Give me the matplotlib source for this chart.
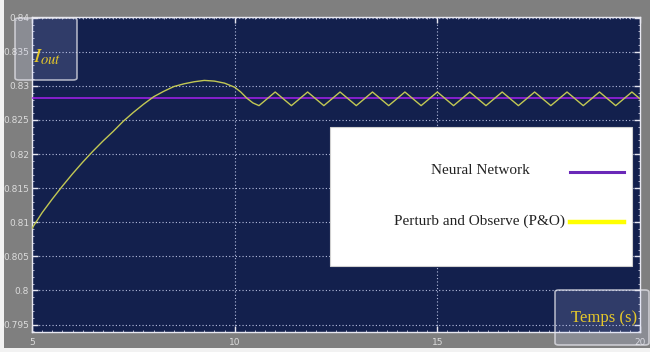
import matplotlib
matplotlib.use("Agg")
import matplotlib.pyplot as plt
from matplotlib.patches import FancyBboxPatch, Rectangle
from matplotlib.lines import Line2D
import matplotlib.ticker as mticker

plt.rcParams["mathtext.fontset"] = "stix"

# ---- data ----
po_time = [5.0, 5.25, 5.5, 5.75, 6.0, 6.25, 6.5, 6.75, 7.0, 7.25, 7.5, 7.75, 8.0, 8.25,
           8.5, 8.75, 9.0, 9.25, 9.5, 9.75, 10.0, 10.15, 10.3, 10.45, 10.6,
           11.0, 11.4, 11.8, 12.2, 12.6, 13.0, 13.4, 13.8, 14.2, 14.6, 15.0, 15.4,
           15.8, 16.2, 16.6, 17.0, 17.4, 17.8, 18.2, 18.6, 19.0, 19.4, 19.8, 20.0]
po_current = [0.8091, 0.8114, 0.8134, 0.8153, 0.8171, 0.8188, 0.8204, 0.8219, 0.8233,
              0.8248, 0.8261, 0.8273, 0.8284, 0.8292, 0.8299, 0.8303, 0.8306, 0.8308,
              0.8307, 0.8304, 0.8298, 0.8291, 0.8282, 0.8275, 0.8271,
              0.8291, 0.8271, 0.8291, 0.8271, 0.8291, 0.8271, 0.8291, 0.8271, 0.8291,
              0.8271, 0.8291, 0.8271, 0.8291, 0.8271, 0.8291, 0.8271, 0.8291, 0.8271,
              0.8291, 0.8271, 0.8291, 0.8271, 0.8291, 0.8281]
nn_time = [5.0, 20.0]
nn_current = [0.8282, 0.8282]

x_ticks = [5, 10, 15, 20]
y_ticks = [0.795, 0.8, 0.805, 0.81, 0.815, 0.82, 0.825, 0.83, 0.835, 0.84]
y_tick_labels = ["0.795", "0.8", "0.805", "0.81", "0.815", "0.82", "0.825", "0.83", "0.835", "0.84"]
legend_labels = ["Neural Network", "Perturb and Observe (P&O)"]

W, H = 650, 352


def fx(x):
    return x / W


def fy(y):
    return 1 - y / H


fig = plt.figure(figsize=(6.5, 3.52), dpi=100, facecolor="#f2f2f2")
# gray panel (leaves a thin light strip at left and bottom)
fig.patches.append(Rectangle((fx(4), fy(348)), fx(646), 348 / H, transform=fig.transFigure,
                             facecolor="#7f7f7f", edgecolor="none", zorder=-10))

ax = fig.add_axes([fx(32), fy(332), fx(608), 315 / H])
ax.set_facecolor("#13204d")

ax.plot(nn_time, nn_current, color="#a41ff0", lw=1.1, zorder=3)
ax.plot(po_time, po_current, color="#c2c854", lw=1.0, zorder=4)

ax.set_xlim(5, 20)
ax.set_ylim(0.7939, 0.8401)
ax.set_xticks(x_ticks)
ax.set_xticklabels([str(t) for t in x_ticks])
ax.set_yticks(y_ticks)
ax.set_yticklabels(y_tick_labels)
ax.xaxis.set_minor_locator(mticker.MultipleLocator(0.25))
ax.yaxis.set_minor_locator(mticker.MultipleLocator(0.001))
ax.tick_params(axis="both", which="major", direction="in", colors="#e6e6f0",
               labelcolor="#dcdcdc", labelsize=6.5, length=4, width=1, pad=2)
ax.tick_params(axis="both", which="minor", direction="in", colors="#c8c8e0", length=1.5)
ax.tick_params(axis="x", pad=4)
ax.tick_params(top=True, right=True, which="both")
ax.grid(True, which="major", color="#b8bfe0", linestyle=(0, (1, 2)), lw=0.8)
for s in ax.spines.values():
    s.set_color("#e8e8f0")
    s.set_linewidth(1.0)

# legend box
fig.patches.append(Rectangle((fx(330), fy(266)), fx(302), 139 / H, transform=fig.transFigure,
                             facecolor="white", edgecolor="#d0d0d0", lw=0.8, zorder=6))
fig.text(fx(480), fy(171), legend_labels[0], ha="center", va="center",
         family="Liberation Serif", fontsize=11, color="#222222", zorder=7)
fig.text(fx(480), fy(221), legend_labels[1], ha="center", va="center",
         family="Liberation Serif", fontsize=11, color="#222222", zorder=7)
fig.lines.append(Line2D([fx(570), fx(624)], [fy(172), fy(172)], transform=fig.transFigure,
                        color="#6a28b8", lw=2.2, zorder=7))
fig.lines.append(Line2D([fx(570), fx(624)], [fy(222), fy(222)], transform=fig.transFigure,
                        color="#ffff00", lw=3.2, zorder=7))

# I_out box (top-left), semi-transparent glossy panel
fig.patches.append(FancyBboxPatch((fx(15), fy(80)), fx(62), 62 / H,
                                  boxstyle="round,pad=0,rounding_size=0.006",
                                  transform=fig.transFigure, facecolor="#c8d0ff",
                                  edgecolor="none", alpha=0.16, zorder=5))
fig.patches.append(FancyBboxPatch((fx(15), fy(80)), fx(62), 62 / H,
                                  boxstyle="round,pad=0,rounding_size=0.006",
                                  transform=fig.transFigure, facecolor="none",
                                  edgecolor="#e8e8ee", lw=1.2, alpha=0.7, zorder=5))
fig.text(fx(33), fy(57), r"$I_{out}$", fontsize=15, color="#e6c82a",
         va="center", ha="left", zorder=6)

# Temps (s) box (bottom-right)
fig.patches.append(FancyBboxPatch((fx(555), fy(345)), fx(94), 55 / H,
                                  boxstyle="round,pad=0,rounding_size=0.006",
                                  transform=fig.transFigure, facecolor="#c8d0ff",
                                  edgecolor="none", alpha=0.16, zorder=5))
fig.patches.append(FancyBboxPatch((fx(555), fy(345)), fx(94), 55 / H,
                                  boxstyle="round,pad=0,rounding_size=0.006",
                                  transform=fig.transFigure, facecolor="none",
                                  edgecolor="#e8e8ee", lw=1.2, alpha=0.7, zorder=5))
fig.text(fx(604), fy(318), "Temps (s)", fontsize=12, color="#e6c82a",
         family="Liberation Serif", va="center", ha="center", zorder=6)

fig.savefig("out.png", dpi=100, facecolor=fig.get_facecolor())
